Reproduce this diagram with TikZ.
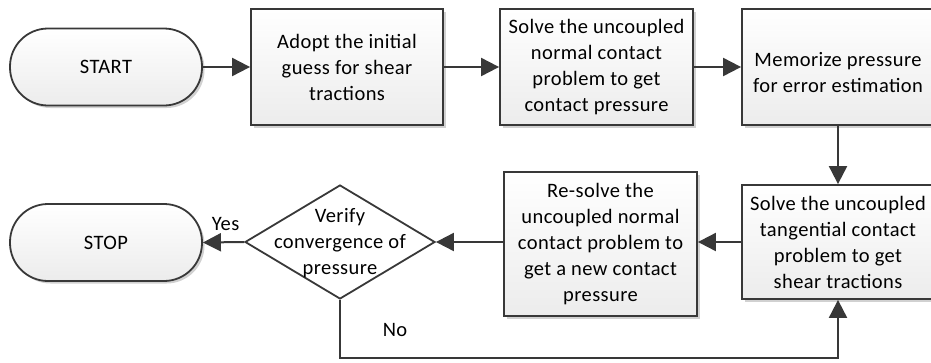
\documentclass[tikz,border=0pt]{standalone}
\usepackage{fontspec}
\setmainfont[LetterSpace=2]{Carlito}
\usetikzlibrary{arrows.meta,shapes.geometric,shadows}
\definecolor{ln}{HTML}{383838}
\definecolor{fillb}{HTML}{ECECEC}
\begin{document}
\begin{tikzpicture}[x=1pt,y=-1pt,
  txt/.style={font=\fontsize{20.5}{26}\selectfont, align=center, text=black},
  shad/.style={drop shadow={shadow xshift=2.5pt, shadow yshift=-2.5pt, fill=black, opacity=0.18}},
  procbox/.style={txt, draw=ln, line width=1.8pt, top color=white, bottom color=fillb, shad, inner sep=0pt},
  term/.style={txt, draw=ln, line width=1.8pt, top color=white, bottom color=fillb, shad, rounded corners=38pt, minimum width=192pt, minimum height=77pt, inner sep=0pt},
  conn/.style={draw=ln, line width=2pt, -{Triangle[length=18pt,width=18pt]}},
  lbl/.style={font=\fontsize{20.5}{24}\selectfont, text=black}
]
\useasboundingbox (0,0) rectangle (931,362);
\node[term] (start) at (106,67) {START};
\node[procbox, minimum width=192pt, minimum height=116pt] (b1) at (347,67) {Adopt the initial\\guess for shear\\tractions};
\node[procbox, minimum width=193pt, minimum height=116pt] (b2) at (596.5,67) {Solve the uncoupled\\normal contact\\problem to get\\contact pressure};
\node[procbox, minimum width=192pt, minimum height=116pt] (b3) at (838,67) {\mbox{}\\Memorize pressure\\for error estimation};
\node[procbox, minimum width=192pt, minimum height=114pt] (b4) at (838,242) {Solve the uncoupled\\tangential contact\\problem to get\\shear tractions};
\node[procbox, minimum width=193pt, minimum height=144pt] (b5) at (600.5,244) {Re-solve the\\uncoupled normal\\contact problem to\\get a new contact\\pressure};
\node[diamond, draw=ln, line width=1.8pt, fill=white, minimum width=190pt, minimum height=114pt, inner sep=0pt] (dia) at (340,242) {};
\node[txt] (diat) at (340,243) {Verify\\convergence of\\pressure};
\node[term] (stop) at (106,242.5) {STOP};
\draw[conn] (start.east) -- (b1.west);
\draw[conn] (b1.east) -- (b2.west);
\draw[conn] (b2.east) -- (b3.west);
\draw[conn] (b3.south) -- (b4.north);
\draw[conn] (b4.west) -- (b4.west -| b5.east);
\draw[conn] (b5.west |- dia.east) -- (dia.east);
\draw[conn] (dia.west) -- (stop.east) node[lbl, pos=0.45, above=7pt] (yes) {Yes};
\coordinate (nb) at (340,358);
\draw[conn] (dia.south) -- (nb) -| (b4.south);
\node[lbl] (no) at (395,330) {No};
\end{tikzpicture}
\end{document}
